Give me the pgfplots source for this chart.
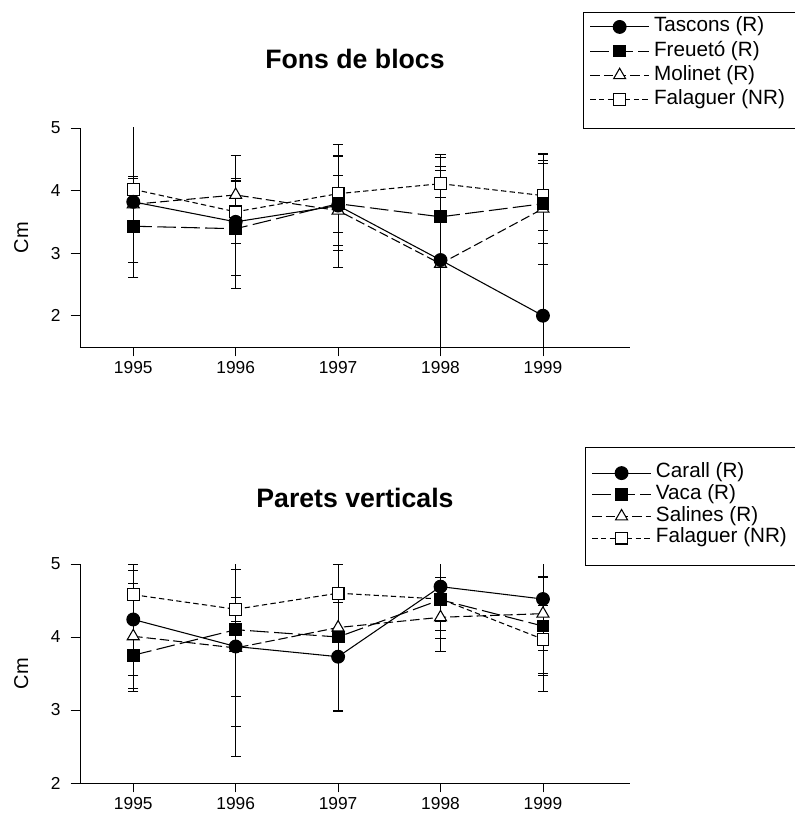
\documentclass[border=0pt]{standalone}
\usepackage{fontspec}
\setmainfont{Liberation Sans}
\usepackage{pgfplots}
\pgfplotsset{compat=1.18}

\pgfplotsset{
  yrplot/.style={
    scale only axis, width=412.5pt, height=164.25pt,
    axis x line=bottom, axis y line=left,
    axis line style={-, line width=0.6pt},
    xmin=1994.48, xmax=1999.85, ymax=5,
    xtick={1995,1996,1997,1998,1999}, ytick={2,3,4,5},
    tick align=outside, major tick length=7pt,
    tick style={black, line width=0.6pt},
    x tick label style={/pgf/number format/1000 sep=},
    y tick label style={xshift=-4pt},
    /pgf/number format/assume math mode=true,
    tick label style={font=\fontsize{13}{15}\selectfont},
    ylabel={Cm},
    ylabel style={font=\fontsize{15}{17}\selectfont, at={(axis description cs:-0.107,0.5)}, anchor=center},
    title style={font=\fontsize{20}{23}\selectfont\bfseries, at={(axis description cs:0.5,1)}, anchor=base},
    legend style={font=\fontsize{15.5}{18}\selectfont, anchor=north west, draw=none, fill=none,
      inner xsep=5pt, column sep=3pt},
    legend cell align={left},
    reverse legend,
    legend image code/.code={\draw[mark repeat=2,mark phase=2,#1] plot coordinates {(0pt,0pt)(21.9pt,0pt)(43.8pt,0pt)};},
    error bars/y dir=both, error bars/y explicit,
    error bars/error bar style={solid, line width=0.5pt},
    error bars/error mark options={solid, line width=0.5pt, mark size=3.8pt, rotate=90},
  },
  s1/.style={black, line width=0.8pt, solid, mark=*, mark size=4.8pt, mark options={solid}},
  s2/.style={black, line width=0.8pt, dash pattern=on 14pt off 4pt, mark=square*, mark size=4.4pt, mark options={solid}},
  s3/.style={black, line width=0.8pt, dash pattern=on 7pt off 3pt, mark=triangle*, mark size=5.2pt, mark options={solid, fill=white}},
  s4/.style={black, line width=0.8pt, dash pattern=on 4pt off 2.5pt, mark=square*, mark size=4.4pt, mark options={solid, fill=white}},
}

\begin{document}
\begin{tikzpicture}

% Fons de blocs
\begin{axis}[yrplot, at={(0pt,327pt)}, anchor=south west, ymin=1.5,
  title={Fons de blocs}, title style={yshift=38.5pt},
  legend style={at={(0.9145,1.522)}, inner ysep=1pt, row sep=0.6pt,
    nodes={inner sep=0.5pt, text height=12pt, text depth=4.5pt}}]
\addplot[s4] coordinates {(1995,4.02) +- (0,0.18) (1996,3.66) +- (0,0.5) (1997,3.95) +- (0,0.62) (1998,4.11) +- (0,0.22) (1999,3.92) +- (0,0.56)};
\addplot[s3] coordinates {(1995,3.78) +- (0,0.44) (1996,3.93) +- (0,0.26) (1997,3.68) +- (0,0.56) (1998,2.83) +- (0,1.7) (1999,3.71) +- (0,0.89)};
\addplot[s2] coordinates {(1995,3.43) +- (0,0.58) (1996,3.39) +- (0,0.75) (1997,3.79) +- (0,0.75) (1998,3.58) +- (0,0.8) (1999,3.79) +- (0,0.64)};
\addplot[s1] coordinates {(1995,3.82) +- (0,1.2) (1996,3.50) +- (0,1.07) (1997,3.76) +- (0,0.98) (1998,2.89) +- (0,1.69) (1999,2.0) +- (0,2.58)};
\legend{Falaguer (NR), Molinet (R), Freuetó (R), Tascons (R)}
\end{axis}

% Parets verticals
\begin{axis}[yrplot, at={(0pt,0pt)}, anchor=south west, ymin=2,
  title={Parets verticals}, title style={yshift=36.5pt},
  legend style={at={(0.918,1.465)}, inner ysep=0pt, row sep=0.25pt,
    nodes={inner sep=0.5pt, text height=11pt, text depth=4pt}}]
\addplot[s4] coordinates {(1995,4.58) +- (0,0.33) (1996,4.38) +- (0,0.17) (1997,4.60) +- (0,0.6) (1998,4.52) +- (0,0.3) (1999,3.97) +- (0,0.47)};
\addplot[s3] coordinates {(1995,4.01) +- (0,0.72) (1996,3.85) +- (0,1.08) (1997,4.13) +- (0,0.4) (1998,4.27) +- (0,0.18) (1999,4.32) +- (0,0.5)};
\addplot[s2] coordinates {(1995,3.75) +- (0,0.5) (1996,4.10) +- (0,0.91) (1997,4.0) +- (0,1.0) (1998,4.51) +- (0,0.53) (1999,4.15) +- (0,0.68)};
\addplot[s1] coordinates {(1995,4.24) +- (0,0.76) (1996,3.87) +- (0,1.5) (1997,3.73) +- (0,0.75) (1998,4.69) +- (0,0.89) (1999,4.52) +- (0,1.27)};
\legend{Falaguer (NR), Salines (R), Vaca (R), Carall (R)}
\end{axis}

% legend frames
\draw[line width=0.6pt] (377.25pt,491.25pt) rectangle (547.5pt,578.25pt);
\draw[line width=0.6pt] (378.75pt,163.5pt) rectangle (547.5pt,252pt);

\pgfresetboundingbox
\useasboundingbox (-60pt,-30.75pt) rectangle (535.5pt,587.25pt);
\end{tikzpicture}
\end{document}
